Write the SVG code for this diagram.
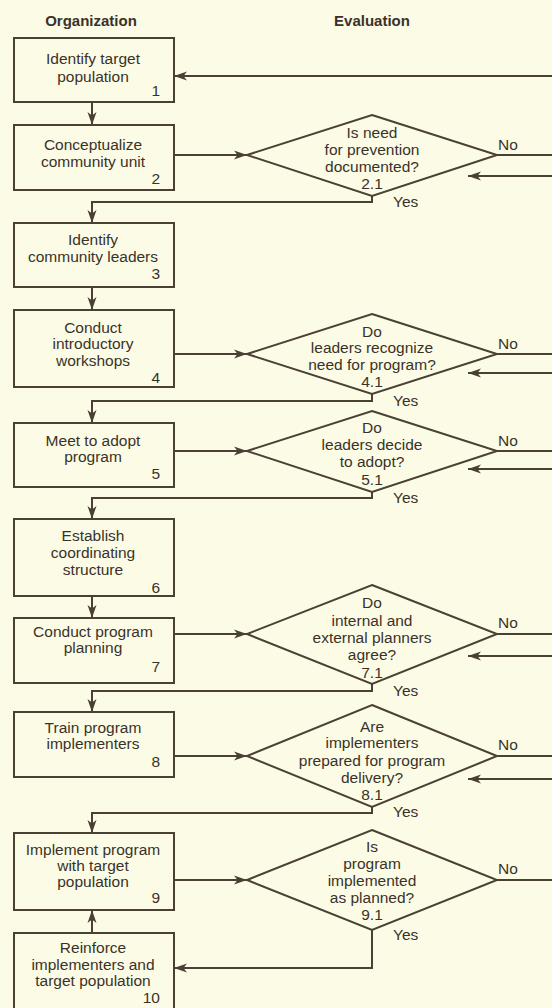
<svg xmlns="http://www.w3.org/2000/svg" width="552" height="1008" viewBox="0 0 552 1008">
<style>
.bg{fill:#fcfce6}
.box{fill:none;stroke:#4a4034;stroke-width:2}
.dia{fill:none;stroke:#4a4034;stroke-width:2;stroke-linejoin:miter}
.ln{fill:none;stroke:#4a4034;stroke-width:2}
.ar{marker-end:url(#ah)}
text{font-family:"Liberation Sans",Arial,sans-serif;font-size:15.5px;fill:#3a3229}
.c{text-anchor:middle}
.n{text-anchor:end}
.h{font-weight:bold;font-size:15px;text-anchor:middle}
</style>
<defs>
<marker id="ah" markerUnits="userSpaceOnUse" markerWidth="14" markerHeight="10" refX="13" refY="5" orient="auto">
<path d="M0,0.5 L13,5 L0,9.5 L3.5,5 Z" fill="#4a4034"/>
</marker>
</defs>
<rect class="bg" x="0" y="0" width="552" height="1008"/>
<g id="headers">
<text class="h" x="91" y="26">Organization</text>
<text class="h" x="372" y="26">Evaluation</text>
</g>
<g id="connectors">
<path class="ln ar" d="M552,76 H174"/>
<path class="ln ar" d="M92,102 V125"/>
<path class="ln ar" d="M174,155 H247"/>
<path class="ln" d="M497,155 H552"/>
<path class="ln ar" d="M552,176 H468"/>
<path class="ln ar" d="M372,196 V202 H92 V223"/>
<path class="ln ar" d="M92,287 V310"/>
<path class="ln ar" d="M174,354 H247"/>
<path class="ln" d="M497,354 H552"/>
<path class="ln ar" d="M552,373 H468"/>
<path class="ln ar" d="M372,394 V401 H92 V423"/>
<path class="ln ar" d="M174,451 H247"/>
<path class="ln" d="M497,451 H552"/>
<path class="ln ar" d="M552,469 H468"/>
<path class="ln ar" d="M372,492 V498 H92 V519"/>
<path class="ln ar" d="M92,596 V618"/>
<path class="ln ar" d="M174,634 H247"/>
<path class="ln" d="M497,634 H552"/>
<path class="ln ar" d="M552,656 H468"/>
<path class="ln ar" d="M372,684 V691 H92 V712"/>
<path class="ln ar" d="M174,756 H247"/>
<path class="ln" d="M497,756 H552"/>
<path class="ln ar" d="M552,779 H468"/>
<path class="ln ar" d="M372,807 V813 H92 V833"/>
<path class="ln ar" d="M174,880 H247"/>
<path class="ln" d="M497,880 H552"/>
<path class="ln ar" d="M372,930 V968 H174"/>
<path class="ln ar" d="M92,933 V910"/>
<text x="498" y="150">No</text>
<text x="498" y="349">No</text>
<text x="498" y="446">No</text>
<text x="498" y="628">No</text>
<text x="498" y="750">No</text>
<text x="498" y="874">No</text>
<text x="393" y="207">Yes</text>
<text x="393" y="406">Yes</text>
<text x="393" y="503">Yes</text>
<text x="393" y="696">Yes</text>
<text x="393" y="817">Yes</text>
<text x="393" y="940">Yes</text>
</g>
<g id="n1">
<rect class="box" x="14" y="38" width="160" height="64"/>
<text class="c" x="93" y="64">Identify target</text>
<text class="c" x="93" y="82">population</text>
<text class="n" x="160" y="96">1</text>
</g>
<g id="n2">
<rect class="box" x="14" y="125" width="160" height="65"/>
<text class="c" x="93" y="150">Conceptualize</text>
<text class="c" x="93" y="167">community unit</text>
<text class="n" x="160" y="184">2</text>
</g>
<g id="d2_1">
<polygon class="dia" points="372,115 497,155 372,196 247,155"/>
<text class="c" x="372" y="138">Is need</text>
<text class="c" x="372" y="155">for prevention</text>
<text class="c" x="372" y="172">documented?</text>
<text class="c" x="372" y="189">2.1</text>
</g>
<g id="n3">
<rect class="box" x="14" y="223" width="160" height="64"/>
<text class="c" x="93" y="245">Identify</text>
<text class="c" x="93" y="262">community leaders</text>
<text class="n" x="160" y="279">3</text>
</g>
<g id="n4">
<rect class="box" x="14" y="310" width="160" height="77"/>
<text class="c" x="93" y="333">Conduct</text>
<text class="c" x="93" y="349">introductory</text>
<text class="c" x="93" y="366">workshops</text>
<text class="n" x="160" y="383">4</text>
</g>
<g id="d4_1">
<polygon class="dia" points="372,314 497,354 372,394 247,354"/>
<text class="c" x="372" y="337">Do</text>
<text class="c" x="372" y="353">leaders recognize</text>
<text class="c" x="372" y="370">need for program?</text>
<text class="c" x="372" y="387">4.1</text>
</g>
<g id="n5">
<rect class="box" x="14" y="423" width="160" height="64"/>
<text class="c" x="93" y="446">Meet to adopt</text>
<text class="c" x="93" y="462">program</text>
<text class="n" x="160" y="479">5</text>
</g>
<g id="d5_1">
<polygon class="dia" points="372,411 497,451 372,492 247,451"/>
<text class="c" x="372" y="433">Do</text>
<text class="c" x="372" y="450">leaders decide</text>
<text class="c" x="372" y="467">to adopt?</text>
<text class="c" x="372" y="485">5.1</text>
</g>
<g id="n6">
<rect class="box" x="14" y="519" width="160" height="77"/>
<text class="c" x="93" y="541">Establish</text>
<text class="c" x="93" y="558">coordinating</text>
<text class="c" x="93" y="575">structure</text>
<text class="n" x="160" y="593">6</text>
</g>
<g id="n7">
<rect class="box" x="14" y="618" width="160" height="65"/>
<text class="c" x="93" y="637">Conduct program</text>
<text class="c" x="93" y="653">planning</text>
<text class="n" x="160" y="672">7</text>
</g>
<g id="d7_1">
<polygon class="dia" points="372,585 497,634 372,684 247,634"/>
<text class="c" x="372" y="608">Do</text>
<text class="c" x="372" y="626">internal and</text>
<text class="c" x="372" y="643">external planners</text>
<text class="c" x="372" y="660">agree?</text>
<text class="c" x="372" y="678">7.1</text>
</g>
<g id="n8">
<rect class="box" x="14" y="712" width="160" height="65"/>
<text class="c" x="93" y="733">Train program</text>
<text class="c" x="93" y="749">implementers</text>
<text class="n" x="160" y="767">8</text>
</g>
<g id="d8_1">
<polygon class="dia" points="372,705 497,756 372,807 247,756"/>
<text class="c" x="372" y="732">Are</text>
<text class="c" x="372" y="748">implementers</text>
<text class="c" x="372" y="766">prepared for program</text>
<text class="c" x="372" y="783">delivery?</text>
<text class="c" x="372" y="800">8.1</text>
</g>
<g id="n9">
<rect class="box" x="14" y="833" width="160" height="77"/>
<text class="c" x="93" y="855">Implement program</text>
<text class="c" x="93" y="871">with target</text>
<text class="c" x="93" y="887">population</text>
<text class="n" x="160" y="903">9</text>
</g>
<g id="d9_1">
<polygon class="dia" points="372,830 497,880 372,930 247,880"/>
<text class="c" x="372" y="852">Is</text>
<text class="c" x="372" y="869">program</text>
<text class="c" x="372" y="886">implemented</text>
<text class="c" x="372" y="903">as planned?</text>
<text class="c" x="372" y="920">9.1</text>
</g>
<g id="n10">
<rect class="box" x="14" y="933" width="160" height="80"/>
<text class="c" x="93" y="953">Reinforce</text>
<text class="c" x="93" y="970">implementers and</text>
<text class="c" x="93" y="986">target population</text>
<text class="n" x="160" y="1003">10</text>
</g>
</svg>
